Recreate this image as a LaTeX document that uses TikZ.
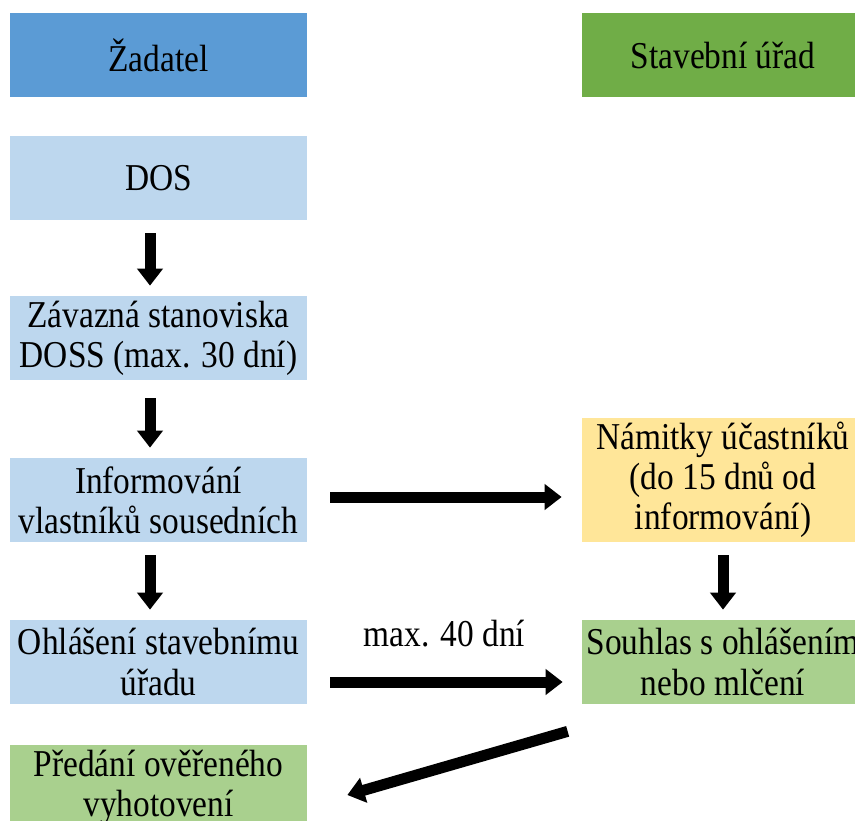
\documentclass[tikz,border=0pt]{standalone}
\usepackage{fontspec}
\setmainfont[FakeStretch=0.88]{Liberation Serif}
\usetikzlibrary{arrows.meta}

\definecolor{hlmodra}{HTML}{5B9BD5}
\definecolor{hlzelena}{HTML}{70AD47}
\definecolor{svmodra}{HTML}{BDD7EE}
\definecolor{svzluta}{HTML}{FFE699}
\definecolor{svzelena}{HTML}{A9D08E}

\begin{document}
\begin{tikzpicture}[
  box/.style={minimum width=5.94cm, minimum height=1.68cm, inner sep=0pt, align=center,
    font=\fontsize{21.6}{22.8}\selectfont},
  sipka/.style={line width=0.22cm, -{Triangle[width=0.5cm,length=0.34cm]},
    shorten <=0.26cm, shorten >=0.2cm}]
  \clip (0,0) rectangle (17.1,-16.4);
  \node [box, fill=hlmodra] (zad) at (3.17,-1.10) {Žadatel};
  \node [box, fill=hlzelena, minimum width=5.64cm] (sta) at (14.46,-1.10) {Stavební úřad};
  \node [box, fill=svmodra] (dos) at (3.17,-3.56) {DOS};
  \node [box, fill=svmodra] (zav) at (3.17,-6.76) {Závazná stanoviska\\DOSS (max. 30 dní)};
  \node [box, fill=svmodra] (inf) at (3.17,-10.00) {Informování\\vlastníků sousedních};
  \node [box, fill=svzluta, minimum width=5.64cm, minimum height=2.48cm] (nam) at (14.46,-9.60)
    {Námitky účastníků\\(do 15 dnů od\\informování)};
  \node [box, fill=svmodra] (ohl) at (3.17,-13.24) {Ohlášení stavebnímu\\úřadu};
  \node [box, fill=svzelena, minimum width=5.64cm] (sou) at (14.46,-13.24) {Souhlas s ohlášením\\nebo mlčení};
  \node [box, fill=svzelena] (pre) at (3.17,-15.74) {Předání ověřeného\\vyhotovení};
  % sipky
  \draw [sipka] ([xshift=-0.17cm]dos.south) -- ([xshift=-0.17cm]zav.north);
  \draw [sipka, shorten <=0.36cm] ([xshift=-0.17cm]zav.south) -- ([xshift=-0.17cm]inf.north);
  \draw [sipka] ([xshift=-0.17cm]inf.south) -- ([xshift=-0.17cm]ohl.north);
  \draw [sipka] (nam.south) -- (sou.north);
  \draw [sipka, shorten <=0.46cm, shorten >=0.4cm] ([yshift=0.06cm]inf.east) -- ([yshift=0.06cm]inf.east -| nam.west);
  \draw [sipka, shorten <=0.46cm, shorten >=0.38cm] ([yshift=-0.4cm]ohl.east) -- node [above=0.58cm, inner sep=0pt,
    font=\fontsize{21.6}{22.8}\selectfont] (lhuta) {max. 40 dní} ([yshift=-0.4cm]sou.west);
  \draw [sipka, shorten <=0pt, shorten >=0pt] ([shift={(-0.28,-0.54)}]sou.south west) -- ([shift={(0.8,-0.16)}]pre.east);
\end{tikzpicture}
\end{document}
